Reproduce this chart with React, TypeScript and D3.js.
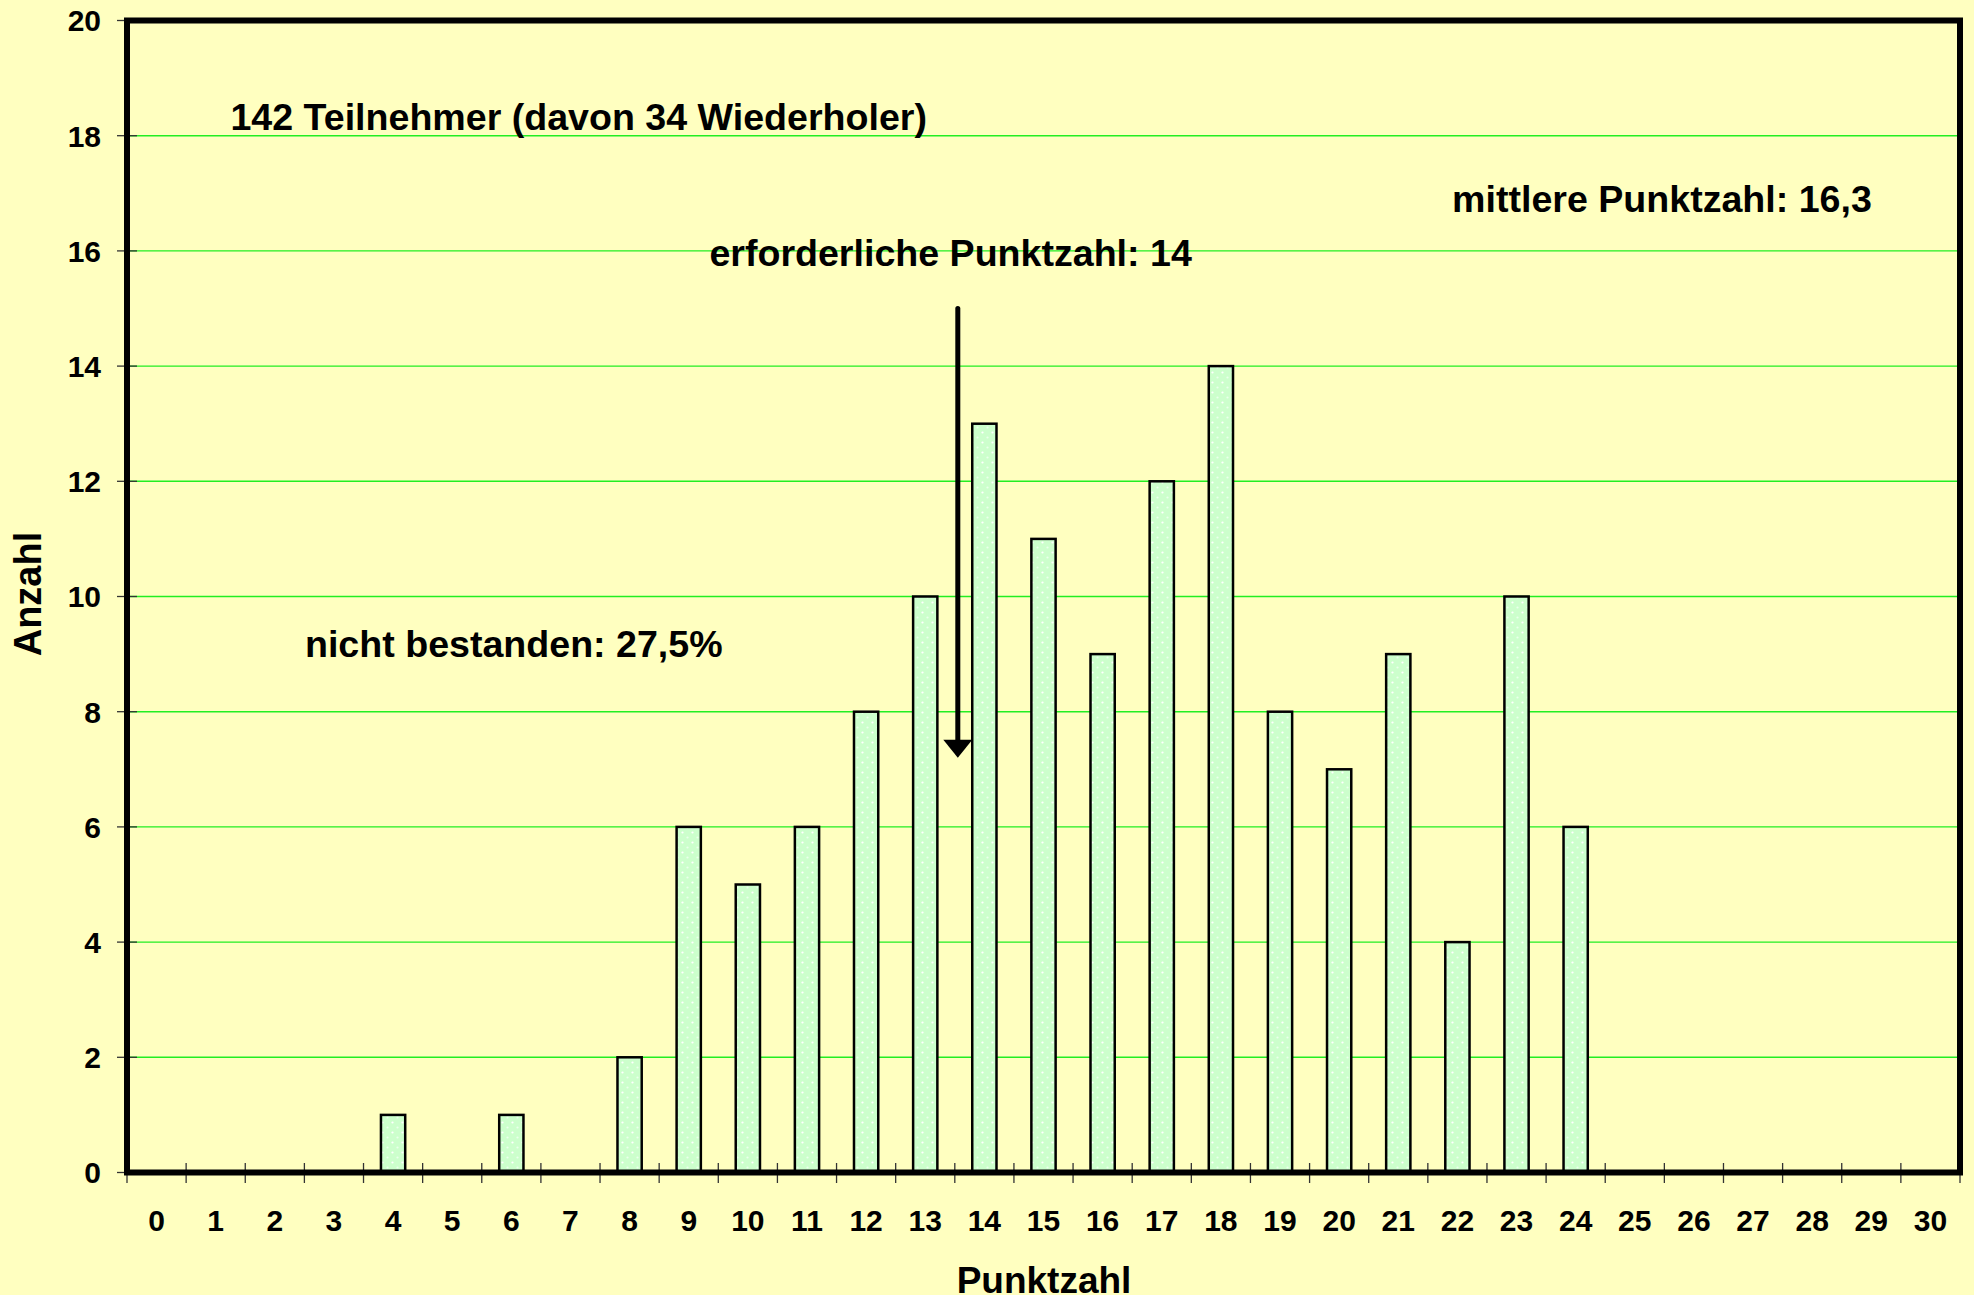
import React from "react";
import * as d3 from "d3";

const scores = d3.range(0, 31);
const counts = [0, 0, 0, 0, 1, 0, 1, 0, 2, 6, 5, 6, 8, 10, 13, 11, 9, 12, 14, 8, 7, 9, 4, 10, 6, 0, 0, 0, 0, 0, 0];
const yTicks = [0, 2, 4, 6, 8, 10, 12, 14, 16, 18, 20];
const notes = [
  { text: "142 Teilnehmer (davon 34 Wiederholer)", score: 1.75, value: 18.1 },
  { text: "mittlere Punktzahl: 16,3", score: 22.41, value: 16.68 },
  { text: "erforderliche Punktzahl: 14", score: 9.85, value: 15.74 },
  { text: "nicht bestanden: 27,5%", score: 3.01, value: 8.95 },
];
const arrow = { score: 14, from: 15.0, to: 7.2 };

const W = 1974;
const H = 1295;
const left = 127;
const right = 1960;
const top = 20.5;
const bottom = 1172.5;

export default function App() {
  const x = d3.scaleBand<number>().domain(scores).range([left, right]).paddingInner(0).paddingOuter(0);
  const y = d3.scaleLinear().domain([0, 20]).range([bottom, top]);
  const bw = x.bandwidth();
  const barW = bw * 0.41;
  const font = "'Liberation Sans', Arial, sans-serif";
  const ax = x(arrow.score)! + 3;
  const ay1 = y(arrow.from);
  const ay2 = y(arrow.to);
  return (
    <svg width={W} height={H} style={{ position: "absolute", left: 0, top: 0, background: "#ffffc0" }} fontFamily={font} fontWeight="bold">
      <defs>
        <pattern id="dots" width="10" height="10" patternUnits="userSpaceOnUse">
          <rect width="10" height="10" fill="#ccffcc" />
          <circle cx="2.5" cy="2.5" r="1.1" fill="#ffffff" />
          <circle cx="7.5" cy="7.5" r="1.1" fill="#ffffff" opacity="0.6" />
        </pattern>
      </defs>
      <rect x={0} y={0} width={W} height={H} fill="#ffffc0" />
      {yTicks.filter((t) => t > 0 && t < 20).map((t) => (
        <line key={"g" + t} x1={left} x2={right} y1={y(t)} y2={y(t)} stroke="#22ee22" strokeWidth={1.4} />
      ))}
      {yTicks.map((t) => (
        <g key={"yt" + t}>
          <line x1={117} x2={137} y1={y(t)} y2={y(t)} stroke="#333" strokeWidth={1.3} />
          <text x={101} y={y(t)} dy="0.36em" textAnchor="end" fontSize={30}>{t}</text>
        </g>
      ))}
      {counts.map((c, i) => c > 0 ? (
        <rect key={"b" + i} x={x(scores[i])! + (bw - barW) / 2} y={y(c)} width={barW} height={y(0) - y(c)} fill="url(#dots)" stroke="#000" strokeWidth={2.5} />
      ) : null)}
      {[...scores, 31].map((s) => {
        const xx = s === 31 ? right : x(s)!;
        return <line key={"xt" + s} x1={xx} x2={xx} y1={1163} y2={1183} stroke="#333" strokeWidth={1.3} />;
      })}
      {scores.map((s) => (
        <text key={"xl" + s} x={x(s)! + bw / 2} y={1231} textAnchor="middle" fontSize={30}>{s}</text>
      ))}
      <rect x={left} y={top} width={right - left} height={bottom - top} fill="none" stroke="#000" strokeWidth={6} />
      {notes.map((n, i) => (
        <text key={"n" + i} x={x(0)! + n.score * bw} y={y(n.value)} fontSize={37.6}>{n.text}</text>
      ))}
      <line x1={ax} x2={ax} y1={ay1} y2={ay2 - 14} stroke="#000" strokeWidth={5} strokeLinecap="round" />
      <path d={`M${ax - 14.5},${ay2 - 18} L${ax + 14.5},${ay2 - 18} L${ax},${ay2} Z`} fill="#000" />
      <text transform={`translate(41,${594}) rotate(-90)`} textAnchor="middle" fontSize={38}>Anzahl</text>
      <text x={1044} y={1293} textAnchor="middle" fontSize={37}>Punktzahl</text>
    </svg>
  );
}
